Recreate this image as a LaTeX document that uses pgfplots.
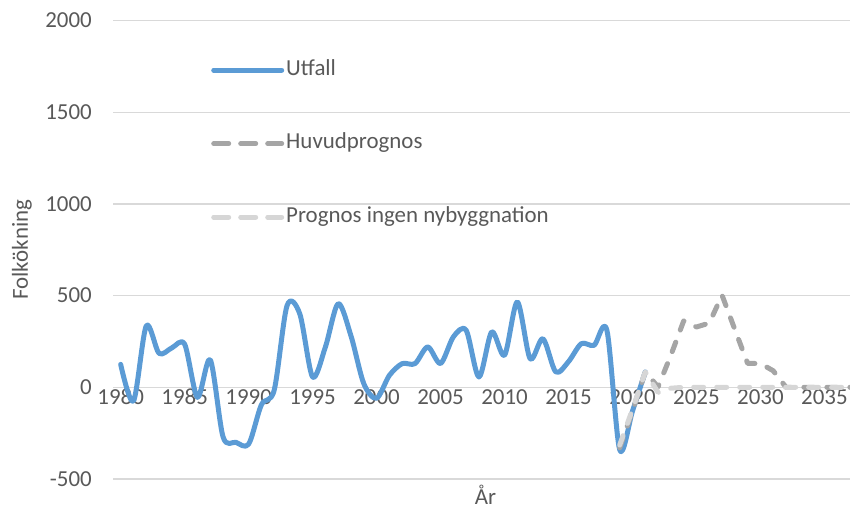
\documentclass[border=0pt]{standalone}
\usepackage{fontspec}
\setmainfont{Carlito}
\usepackage{pgfplots}
\usepackage{pgfplotstable}
\pgfplotsset{compat=1.18}
\usetikzlibrary{calc}
\definecolor{UtfallBlue}{HTML}{5B9BD5}
\definecolor{HuvudGray}{HTML}{A5A5A5}
\definecolor{IngenGray}{HTML}{D6D6D6}
\definecolor{GridGray}{HTML}{D9D9D9}
\definecolor{TextGray}{HTML}{595959}

% Utfall (observed)
\pgfplotstableread{
year val
1980 125
1981 -75
1982 335
1983 185
1984 215
1985 235
1986 -55
1987 150
1988 -270
1989 -300
1990 -310
1991 -95
1992 -15
1993 445
1994 400
1995 56
1996 220
1997 456
1998 280
1999 20
2000 -60
2001 65
2002 129
2003 129
2004 220
2005 130
2006 275
2007 311
2008 56
2009 302
2010 175
2011 465
2012 156
2013 265
2014 84
2015 140
2016 238
2017 229
2018 311
2019 -340
2020 -130
2021 84
}\utfall

% Huvudprognos
\pgfplotstableread{
year val
2019 -330
2020 -130
2021 84
2022 2
2023 175
2024 362
2025 329
2026 350
2027 502
2028 315
2029 130
2030 130
2031 90
2032 0
2033 0
2034 0
2035 0
2036 0
2037 0
}\huvud

% Prognos ingen nybyggnation
\pgfplotstableread{
year val
2019 -315
2020 -120
2021 84
2022 -28
2023 -5
2024 0
2025 0
2026 0
2027 0
2028 0
2029 0
2030 0
2031 0
2032 0
2033 0
2034 0
2035 0
2036 0
2037 0
}\ingen

\newcommand{\chartfont}{\fontsize{23}{27}\selectfont}

\begin{document}
\begin{tikzpicture}
\begin{axis}[
  name=ax,
  set layers,
  scale only axis,
  width=737bp, height=458.5bp,
  xmin=1979.4, xmax=2037,
  ymin=-500, ymax=2000,
  xtick={1980,1985,...,2035},
  xticklabels={1980,1985,1990,1995,2000,2005,2010,2015,2020,2025,2030,2035},
  ytick={-500,0,500,1000,1500,2000},
  yticklabels={-500,0,500,1000,1500,2000},
  axis line style={draw=none},
  major tick length=0pt,
  ymajorgrids,
  major grid style={GridGray, line width=1.3bp},
  tick label style={font=\chartfont, text=TextGray},
  xticklabel style={anchor=north, inner sep=0pt, yshift=90bp},
  yticklabel style={anchor=east, inner sep=0pt, xshift=-21bp},
  xlabel={År},
  every axis x label/.style={at={(axis description cs:0.5,0)}, anchor=north, inner sep=0pt,
    yshift=-6bp, xshift=4bp, font=\chartfont, text=TextGray},
  ylabel={Folkökning},
  every axis y label/.style={at={(axis description cs:0,0.5)}, rotate=90, anchor=center,
    yshift=91bp, font=\chartfont, text=TextGray},
  legend cell align=left,
  legend image code/.code={\draw[#1] (0bp,0bp) -- (68bp,0bp);},
  legend style={at={(rel axis cs:0.133,0.914)}, anchor=north west, draw=none, fill=none,
    font=\chartfont, text=TextGray, row sep=53.5bp, column sep=2bp, inner sep=0pt,
    nodes={inner sep=0pt, text height=15bp, text depth=5bp}},
]
\addplot[UtfallBlue, line width=5bp, smooth, tension=0.5, line cap=round, line join=round]
  table[x=year, y=val] {\utfall};
\addlegendentry{Utfall}
\addplot[HuvudGray, line width=5bp, line cap=round, line join=round, dash pattern=on 10bp off 13bp,
  legend image post style={dash pattern=on 15bp off 12bp}]
  table[x=year, y=val] {\huvud};
\addlegendentry{Huvudprognos}
\addplot[IngenGray, line width=5bp, line cap=round, line join=round, dash pattern=on 10bp off 13bp,
  legend image post style={dash pattern=on 15bp off 12bp}]
  table[x=year, y=val] {\ingen};
\addlegendentry{Prognos ingen nybyggnation}
\end{axis}
\pgfresetboundingbox
\path[use as bounding box] ($(ax.south west)+(-113bp,-32bp)$) rectangle ($(ax.north east)+(0,20.5bp)$);
\end{tikzpicture}
\end{document}
